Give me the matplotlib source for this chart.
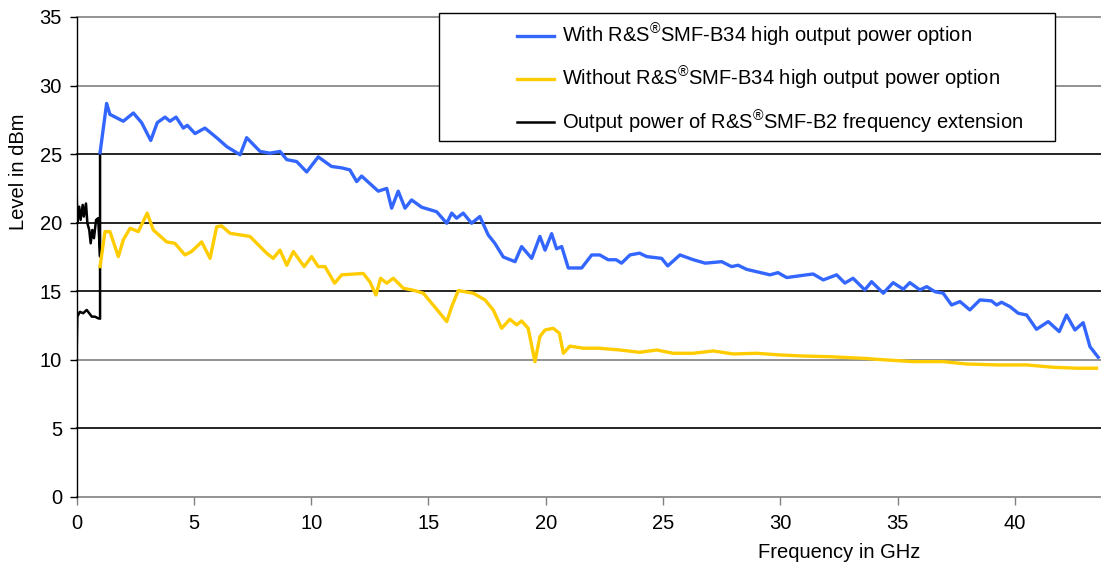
import matplotlib
matplotlib.use("Agg")
import matplotlib.pyplot as plt
from matplotlib.patches import Rectangle

plt.rcParams['font.family'] = ['Liberation Sans', 'DejaVu Sans']
plt.rcParams['mathtext.fontset'] = 'custom'
plt.rcParams['mathtext.rm'] = 'Liberation Sans'

# frequency in GHz, level in dBm
blue_f = [1.0, 1.28, 1.42, 1.99, 2.42, 2.77, 3.16, 3.44, 3.77, 3.98,
          4.24, 4.55, 4.72, 5.05, 5.47, 5.97, 6.40, 6.97, 7.25, 7.82,
          8.24, 8.67, 8.96, 9.38, 9.81, 10.3, 10.87, 11.3, 11.65, 11.94,
          12.15, 12.86, 13.22, 13.43, 13.71, 14.0, 14.28, 14.71, 15.35, 15.78,
          15.99, 16.2, 16.48, 16.84, 17.19, 17.55, 17.83, 18.19, 18.69, 18.97,
          19.4, 19.75, 19.97, 20.25, 20.46, 20.68, 20.96, 21.53, 21.96, 22.3,
          22.66, 23.0, 23.23, 23.59, 24.0, 24.3, 24.94, 25.2, 25.72, 26.29,
          26.8, 27.5, 27.92, 28.2, 28.56, 29.56, 29.9, 30.27, 31.12, 31.4,
          31.83, 32.4, 32.75, 33.1, 33.6, 33.89, 34.39, 34.81, 35.24, 35.52,
          35.95, 36.24, 36.59, 36.94, 37.3, 37.66, 38.08, 38.51, 39.0, 39.22,
          39.43, 39.79, 40.14, 40.5, 40.92, 41.42, 41.89, 42.2, 42.56, 42.91,
          43.2, 43.55]
blue_v = [25.1, 28.7, 27.9, 27.4, 28.0, 27.3, 26.0, 27.3, 27.7, 27.4,
          27.7, 26.9, 27.1, 26.5, 26.9, 26.2, 25.55, 24.95, 26.2, 25.2,
          25.07, 25.2, 24.6, 24.46, 23.7, 24.8, 24.1, 24.0, 23.85, 23.0,
          23.4, 22.3, 22.5, 21.06, 22.3, 21.06, 21.66, 21.13, 20.8, 19.96,
          20.7, 20.33, 20.7, 19.96, 20.45, 19.1, 18.5, 17.5, 17.16, 18.26,
          17.4, 19.0, 18.0, 19.2, 18.1, 18.26, 16.7, 16.7, 17.65, 17.65,
          17.3, 17.3, 17.05, 17.65, 17.78, 17.53, 17.4, 16.85, 17.65, 17.3,
          17.05, 17.16, 16.8, 16.9, 16.6, 16.2, 16.36, 16.0, 16.2, 16.26,
          15.83, 16.2, 15.6, 15.95, 15.1, 15.7, 14.86, 15.63, 15.15, 15.63,
          15.1, 15.34, 14.97, 14.86, 14.0, 14.25, 13.64, 14.37, 14.3, 14.0,
          14.2, 13.88, 13.4, 13.27, 12.23, 12.79, 12.06, 13.27, 12.18, 12.71,
          10.96, 10.19]

yellow_f = [1.0, 1.21, 1.42, 1.78, 1.99, 2.28, 2.63, 3.01, 3.27, 3.84,
            4.19, 4.62, 4.9, 5.33, 5.69, 5.97, 6.18, 6.54, 7.39, 8.1,
            8.38, 8.67, 8.96, 9.24, 9.7, 10.02, 10.3, 10.59, 11.0, 11.3,
            12.22, 12.5, 12.76, 12.96, 13.22, 13.5, 13.93, 14.42, 14.78, 15.2,
            15.49, 15.78, 15.99, 16.27, 16.91, 17.41, 17.76, 18.12, 18.47, 18.76,
            18.97, 19.25, 19.54, 19.75, 19.97, 20.32, 20.58, 20.75, 21.03, 21.6,
            22.24, 23.16, 24.0, 24.73, 25.43, 26.29, 27.14, 27.99, 28.99, 29.98,
            30.97, 32.11, 33.68, 34.1, 35.66, 36.94, 37.94, 39.22, 40.5, 41.63,
            42.63, 43.48]
yellow_v = [16.8, 19.35, 19.35, 17.53, 18.75, 19.6, 19.35, 20.7, 19.47, 18.6,
            18.5, 17.65, 17.9, 18.6, 17.4, 19.7, 19.77, 19.23, 19.0, 17.78,
            17.4, 18.0, 16.9, 17.9, 16.8, 17.53, 16.8, 16.8, 15.59, 16.2,
            16.3, 15.7, 14.73, 15.95, 15.59, 15.95, 15.22, 15.05, 14.86, 14.0,
            13.4, 12.79, 13.88, 15.05, 14.86, 14.37, 13.64, 12.3, 12.96, 12.55,
            12.84, 12.3, 9.87, 11.7, 12.18, 12.3, 11.94, 10.48, 11.0, 10.85,
            10.85, 10.72, 10.55, 10.72, 10.48, 10.48, 10.65, 10.43, 10.48, 10.36,
            10.28, 10.23, 10.1, 10.04, 9.87, 9.87, 9.7, 9.63, 9.63, 9.46,
            9.39, 9.39]

# R&S SMF-B2 traces below 1 GHz (upper one joins the blue curve, lower one the yellow)
black_hi_f = [0.0, 0.03, 0.11, 0.17, 0.26, 0.31, 0.40, 0.46, 0.54, 0.60,
              0.67, 0.74, 0.83, 0.92, 1.0, 1.0]
black_hi_v = [22.4, 19.96, 21.17, 20.2, 21.3, 20.45, 21.4, 19.96, 19.47, 18.5,
              19.47, 18.87, 20.2, 20.33, 17.53, 25.1]
black_lo_f = [0.0, 0.03, 0.14, 0.28, 0.43, 0.65, 0.78, 0.92, 1.0, 1.0]
black_lo_v = [10.23, 13.15, 13.5, 13.4, 13.64, 13.15, 13.15, 13.03, 13.0, 16.8]

y_ticks = [0, 5, 10, 15, 20, 25, 30, 35]
x_ticks = [0, 5, 10, 15, 20, 25, 30, 35, 40]
labels = ["With R&S$^{\u00ae}$SMF-B34 high output power option",
          "Without R&S$^{\u00ae}$SMF-B34 high output power option",
          "Output power of R&S$^{\u00ae}$SMF-B2 frequency extension"]

BLUE = '#3366ff'
YELLOW = '#ffcc00'
GREY = '#808080'
grid_colors = {0: GREY, 5: 'black', 10: GREY, 15: 'black', 20: 'black',
               25: 'black', 30: GREY, 35: GREY}

fig = plt.figure(figsize=(11.01, 5.73), dpi=100)
ax = fig.add_axes([76.6 / 1101, 1 - 497 / 573, 1 - 76.6 / 1101, 480 / 573])

for y in y_ticks:
    ax.axhline(y, color=grid_colors[y], lw=1.2, zorder=1, clip_on=False)

ax.plot(black_lo_f, black_lo_v, color='black', lw=1.8, zorder=2)
h_black, = ax.plot(black_hi_f, black_hi_v, color='black', lw=1.8, zorder=2)
h_yel, = ax.plot(yellow_f, yellow_v, color=YELLOW, lw=2.4, zorder=3)
h_blue, = ax.plot(blue_f, blue_v, color=BLUE, lw=2.4, zorder=3)

ax.set_xlim(0, 43.67)
ax.set_ylim(0, 35)
ax.set_xticks(x_ticks)
ax.set_yticks(y_ticks)
ax.spines['top'].set_visible(False)
ax.spines['right'].set_visible(False)
ax.spines['bottom'].set_visible(False)
ax.spines['left'].set_color('black')
ax.spines['left'].set_linewidth(1.0)
ax.tick_params(axis='y', length=5, width=1.0, pad=5.5, labelsize=14.5, colors='black')
ax.tick_params(axis='x', length=6, width=1.0, pad=6, labelsize=14.5, color=GREY,
               labelcolor='black')
for tick, y in zip(ax.yaxis.get_major_ticks(), y_ticks):
    tick.tick1line.set_color(grid_colors[y])

fig.text(839 / 1101, 1 - 553 / 573, "Frequency in GHz", fontsize=14.5,
         ha='center', va='center')
fig.text(19 / 1101, 1 - 172 / 573, "Level in dBm", fontsize=14.5,
         ha='center', va='center', rotation=90)

# legend frame drawn by hand: the entries sit off-centre in the box
box = Rectangle((439 / 1101, 1 - 141 / 573), (1055 - 439) / 1101, 128 / 573,
                transform=fig.transFigure, facecolor='white', edgecolor='black',
                lw=1.0, zorder=5)
fig.patches.append(box)
leg = fig.legend([h_blue, h_yel, h_black], labels, loc='upper left',
                 bbox_to_anchor=(517 / 1101, 1 - 22 / 573), frameon=False,
                 fontsize=14.5, borderpad=0, borderaxespad=0, handlelength=1.85,
                 handletextpad=0.4, labelspacing=0.8)
leg.set_zorder(6)

fig.savefig("out.png", dpi=100)
